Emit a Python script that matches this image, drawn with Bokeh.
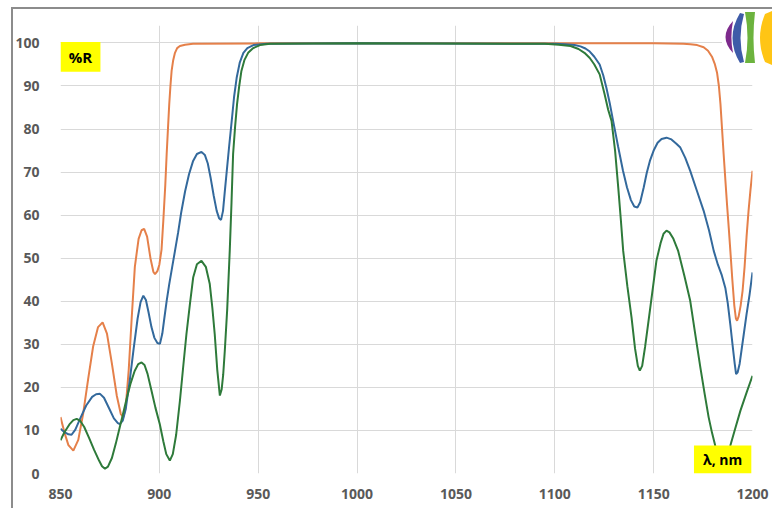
from bokeh.plotting import figure
from bokeh.models import Range1d, FixedTicker, BoxAnnotation, Label, InlineStyleSheet
from bokeh.embed import file_html
from bokeh.resources import INLINE

# ---------------- data ----------------
x_ticks = [850, 900, 950, 1000, 1050, 1100, 1150, 1200]
y_ticks = [0, 10, 20, 30, 40, 50, 60, 70, 80, 90, 100]

orange_x = [850, 852, 854, 856.5, 859, 861.5, 864, 866.5, 869, 871.3, 873.5, 876, 878.5, 880.5, 881.8,
            883, 884.5, 886, 887.6, 889.5, 891, 892.3, 893.8, 895.5, 897, 897.8, 899, 900, 901.1, 902,
            903, 903.7, 904.4, 905, 905.6, 906.2, 907, 907.9, 909, 910.4, 913, 917, 950, 1050, 1150,
            1165, 1168.6, 1172, 1175.3, 1177.5, 1179.5, 1181, 1182.1, 1183, 1183.8, 1184.6, 1185.4,
            1186.3, 1187.1, 1188, 1188.8, 1189.8, 1190.8, 1191.6, 1192.2, 1193, 1194, 1195, 1196,
            1197, 1198, 1199, 1200]
orange_y = [13.1, 9.5, 6.6, 5.3, 7.8, 14, 22, 29.5, 34, 35.1, 32.5, 25.5, 18, 13.8, 13.1,
            15.5, 24, 36, 48, 54.5, 56.5, 56.8, 55, 50, 46.8, 46.3, 47, 48.5, 52, 58.7,
            67, 74.2, 80.5, 85.8, 90, 93.5, 96, 97.7, 98.8, 99.3, 99.6, 99.8, 99.9, 99.9, 99.9,
            99.8, 99.7, 99.5, 99.0, 98.2, 96.8, 95.0, 93.0, 90.0, 85.8, 80.0, 74.2,
            68, 62.6, 57, 51.7, 45, 39, 36, 35.5, 36.5, 39, 42.5, 48,
            55, 61, 66, 70.3]

blue_x = [850, 852, 854, 855.6, 857.5, 860, 863, 866, 868, 870, 872, 874.5, 877, 879, 880, 881.5,
          883, 885, 887, 889, 890.5, 891.9, 893.2, 894.5, 896, 897.5, 899, 900.3, 901.5, 902.5,
          903.7, 905, 906.5, 907.9, 909.5, 911, 913, 915, 917, 919, 921.3, 923, 924.5, 926, 927.5,
          929, 930.2, 931.2, 932.2, 933, 934.1, 935.3, 936.6, 937.8, 939.1, 940.7, 942.5, 944.5,
          947.6, 954.3, 1000, 1100, 1105, 1110, 1113, 1115.5, 1117.7, 1120, 1122.7, 1124.5, 1126.1,
          1127.8, 1129.5, 1132, 1134.5, 1136.5, 1138.5, 1140.2, 1141.8, 1143.2, 1145, 1146.5, 1148.1,
          1150, 1152, 1154, 1156.5, 1159, 1161.5, 1163.5, 1166, 1168.5, 1172, 1175.3, 1178, 1180.4,
          1182.5, 1184.5, 1186.3, 1187.5, 1188.8, 1190, 1191, 1191.7, 1192.5, 1193.5, 1194.5, 1195.6,
          1197, 1198.5, 1200]
blue_y = [10.4, 9.6, 9.1, 9.0, 10.2, 12.8, 15.8, 17.8, 18.4, 18.5, 17.6, 15.2, 12.8, 11.7, 11.5, 12.3,
          15, 21.5, 29, 36, 39.8, 41.3, 40.3, 37.5, 34, 31.5, 30.3, 30.1, 32.5, 36,
          40.1, 44, 48, 51.7, 56, 60.5, 65.5, 69.5, 72.5, 74.2, 74.7, 74.0, 72, 68.5, 64.5,
          61, 59.3, 58.9, 61, 65, 70.3, 76, 81.9, 87.5, 91.9, 95.5, 97.7, 98.8,
          99.5, 99.8, 99.9, 99.8, 99.7, 99.5, 99.2, 98.7, 98.0, 96.8, 95.0, 92.5, 89.6,
          86, 81.9, 76, 70.3, 66.5, 63.5, 62.0, 61.8, 63, 66.5, 69.8, 72.6,
          75, 76.8, 77.7, 78.0, 77.6, 76.6, 75.7, 73.3, 70.3, 65.5, 61.0, 56.5, 51.7,
          48.5, 46, 43, 39.5, 34.5, 29.5, 25.5, 23.1, 23.5, 25.5, 28.8, 32.4,
          37, 41.5, 46.7]

green_x = [850, 852, 854.5, 856.5, 858.2, 860, 862, 864.5, 867, 869.5, 871, 872.5, 874, 876, 878, 880,
           881.5, 883.5, 885.5, 887.5, 889.3, 891, 892.5, 894, 896, 898, 900.2, 902, 903.5, 905.3,
           906.8, 908.5, 910.4, 912, 913.7, 915.5, 917.1, 919, 921.3, 923.5, 925.5, 926.8, 928, 929.3,
           930.6, 931.5, 932.3, 933.1, 934.3, 935.6, 936.5, 937.3, 938.3, 939.3, 940.4, 941.5, 943,
           944.9, 947.5, 950.9, 956, 1000, 1095, 1102, 1108, 1112, 1115, 1117.7, 1120, 1122.7, 1125.2,
           1127, 1128.7, 1130.5, 1132.1, 1133.4, 1134.6, 1136.7, 1138.8, 1140.6, 1142, 1143, 1144.2,
           1145.7, 1147.2, 1149.3, 1151.4, 1153.5, 1155, 1156.5, 1158, 1160, 1162.4, 1165.5, 1168.5,
           1171, 1173.6, 1175.8, 1177.8, 1179.5, 1181.2, 1183, 1185, 1187, 1188.8, 1191.3, 1193.9,
           1197, 1200]
green_y = [7.7, 9.6, 11.4, 12.4, 12.7, 12.2, 10.8, 8.2, 5.5, 3.0, 1.7, 1.1, 1.6, 3.6, 7, 10.8,
           13.6, 17.5, 21, 23.8, 25.4, 25.8, 25.2, 23.2, 19.3, 15.3, 11.5, 7.5, 4.5, 3.0,
           4.5, 9, 16.9, 24.5, 32.4, 39.5, 45.5, 48.6, 49.4, 48, 44, 38.5, 32.4, 24,
           18.1, 19.5, 23, 28.5, 38, 51.7, 63, 74.2, 80.5, 85.8, 90, 93.5, 96,
           97.7, 98.8, 99.5, 99.8, 99.9, 99.8, 99.6, 99.3, 98.6, 97.7, 96.5, 95, 92.7, 88.1,
           84.5, 81.9, 75, 66.4, 59, 51.7, 43.5, 36.3, 29, 25, 23.9, 25,
           29.5, 34.7, 42, 49.4, 53.5, 55.7, 56.4, 56, 54.5, 51.7, 46, 40.1,
           32.5, 24.7, 18.5, 13.1, 9.5, 6.4, 3.8, 2.5, 4, 6.5, 10.5, 14.6,
           18.8, 22.7]

y_label = "%R"
x_label = "λ, nm"

# ---------------- decoration (border + logo as CSS overlay) ----------------
logo_svg = (
    "<svg xmlns='http://www.w3.org/2000/svg' width='52' height='58' viewBox='0 0 52 58'>"
    "<rect width='52' height='58' fill='white'/>"
    "<path d='M11,11 Q-4,27 11,43 Q7.8,27 11,11 Z' fill='%237D2A8C'/>"
    "<path d='M18,3 Q3,28 18,53 L22,52 Q15,28 22,4 Z' fill='%233E5BA8'/>"
    "<path d='M23,2 Q28,28 23,53 L33,53 Q30,28 33,2 Z' fill='%236CB33E'/>"
    "<path d='M43,4 Q33,28 43,52 L52,56 L52,0 Z' fill='%23FFC515'/>"
    "</svg>"
)
css = """
:host::before {
  content: ""; position: absolute; left: 722px; top: 10px; width: 52px; height: 58px;
  background-image: url("data:image/svg+xml,%s"); background-repeat: no-repeat;
  z-index: 5; pointer-events: none;
}
:host::after {
  content: ""; position: absolute; left: 11px; top: 7px; width: 800px; height: 600px;
  border: 2px solid #8c8c8c; box-sizing: border-box; z-index: 6; pointer-events: none;
}
""" % logo_svg

# ---------------- figure ----------------
W, H = 772, 508
p = figure(width=W, height=H, output_backend="svg", toolbar_location=None,
           x_range=Range1d(850, 1200), y_range=Range1d(0, 104.05),
           min_border_left=60, min_border_right=20, min_border_top=25, min_border_bottom=35)
p.stylesheets = [InlineStyleSheet(css=css)]
p.outline_line_color = None
p.background_fill_color = "white"
p.border_fill_color = "white"

for ax in (p.xaxis, p.yaxis):
    ax.axis_line_color = None
    ax.major_tick_line_color = None
    ax.minor_tick_line_color = None
    ax.major_label_text_font = "Open Sans"
    ax.major_label_text_font_style = "bold"
    ax.major_label_text_font_size = "14px"
    ax.major_label_text_color = "#595959"
p.xaxis.ticker = FixedTicker(ticks=x_ticks)
p.yaxis.ticker = FixedTicker(ticks=y_ticks)
p.xaxis.major_label_standoff = 9
p.yaxis.major_label_standoff = 15

p.xgrid.ticker = FixedTicker(ticks=x_ticks)
p.ygrid.ticker = FixedTicker(ticks=y_ticks)
p.grid.grid_line_color = "#d9d9d9"
p.grid.grid_line_width = 1

p.line(orange_x, orange_y, line_color="#E5804A", line_width=2)
p.line(blue_x, blue_y, line_color="#33699C", line_width=2)
p.line(green_x, green_y, line_color="#2E7A3A", line_width=2)

# label boxes
p.add_layout(BoxAnnotation(left=850, right=870.2, bottom=93.3, top=100.2,
                           fill_color="#FFFF00", fill_alpha=1, line_color=None))
p.add_layout(BoxAnnotation(left=1170.4, right=1199.4, bottom=0, top=6.5,
                           fill_color="#FFFF00", fill_alpha=1, line_color=None))
p.add_layout(Label(x=860.1, y=96.75, text=y_label, text_align="center", text_baseline="middle",
                   text_font="Open Sans", text_font_style="bold", text_font_size="15px",
                   text_color="black", level="overlay"))
p.add_layout(Label(x=1184.9, y=3.3, text=x_label, text_align="center", text_baseline="middle",
                   text_font="Open Sans", text_font_style="bold", text_font_size="14px",
                   text_color="black", level="overlay"))

open("out.html", "w").write(file_html(p, INLINE))
